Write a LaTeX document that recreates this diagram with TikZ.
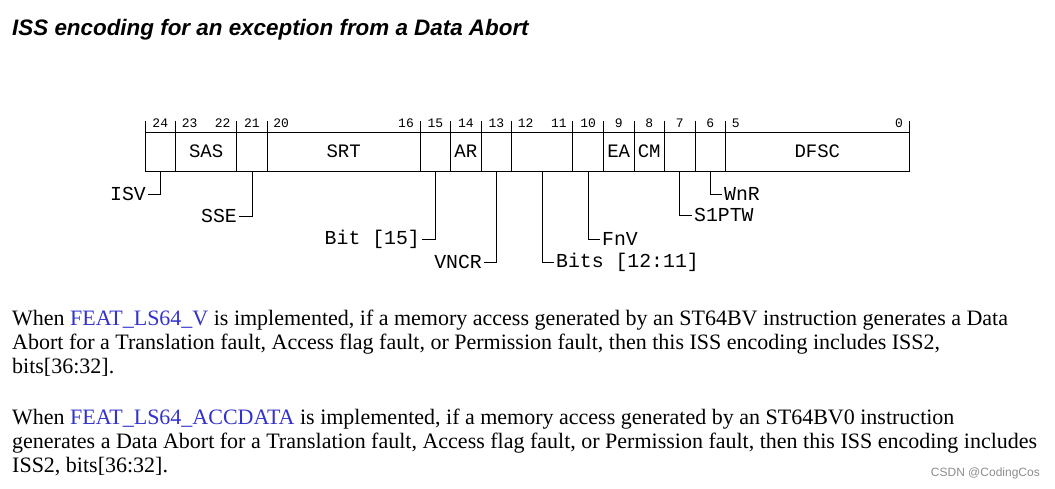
\documentclass[tikz,border=0pt]{standalone}
\usepackage{fontspec}
\setmainfont{Liberation Serif}
\newfontfamily\monof{Liberation Mono}
\newfontfamily\sansf{Liberation Sans}
\definecolor{linkc}{RGB}{51,51,204}
\begin{document}
\begin{tikzpicture}[x=1pt,y=-1pt,
  field/.style={draw,line width=0.9pt,minimum height=39pt,inner sep=0pt,font=\monof\fontsize{19}{19}\selectfont},
  bitn/.style={font=\monof\fontsize{13}{13}\selectfont,inner sep=0pt,anchor=base},
  lab/.style={font=\monof\fontsize{19.8}{19.8}\selectfont,inner sep=2pt},
  conn/.style={line width=0.9pt},
  para/.style={font=\fontsize{22}{24}\selectfont,anchor=base west,inner sep=0pt}]
\useasboundingbox (0,0) rectangle (1055,489);
\node[font=\sansf\bfseries\itshape\fontsize{22.4}{22.4}\selectfont,anchor=base west,inner sep=0pt] (title) at (12,36) {ISS encoding for an exception from a Data Abort};
\def\u{30.56}
\foreach \n/\h/\l/\t in {f24/24/24/{},sas/23/22/SAS,f21/21/21/{},srt/20/16/SRT,f15/15/15/{},ar/14/14/AR,f13/13/13/{},f1211/12/11/{},f10/10/10/{},ea/9/9/EA,cm/8/8/CM,f7/7/7/{},f6/6/6/{},dfsc/5/0/DFSC}{
  \pgfmathsetmacro\xl{909-(\h+1)*\u}
  \pgfmathsetmacro\xr{909-\l*\u}
  \pgfmathsetmacro\w{\xr-\xl}
  \node[field,minimum width=\w pt] (\n) at ({(\xl+\xr)/2},151.5) {\t};
  \draw[line width=0.8pt] (\xl,121) -- (\xl,132);
  \ifnum\h=\l
    \node[bitn] at ({(\xl+\xr)/2},128) {\h};
  \else
    \node[bitn,anchor=base west] at ({\xl+6},128) {\h};
    \node[bitn,anchor=base east] at ({\xr-6},128) {\l};
  \fi
}
\draw[line width=0.8pt] (909,121) -- (909,132);
\node[lab,anchor=east] (isv) at (148,194) {ISV};
\node[lab,anchor=east] (sse) at (239,216) {SSE};
\node[lab,anchor=east] (b15) at (422,239) {Bit [15]};
\node[lab,anchor=east] (vncr) at (484,262) {VNCR};
\node[lab,anchor=west] (b1211) at (554,262) {Bits [12:11]};
\node[lab,anchor=west] (fnv) at (600,239) {FnV};
\node[lab,anchor=west] (s1ptw) at (692,215) {S1PTW};
\node[lab,anchor=west] (wnr) at (722,194) {WnR};
\draw[conn] (f24.south) |- (isv.east);
\draw[conn] (f21.south) |- (sse.east);
\draw[conn] (f15.south) |- (b15.east);
\draw[conn] (f13.south) |- (vncr.east);
\draw[conn] (f1211.south) |- (b1211.west);
\draw[conn] (f10.south) |- (fnv.west);
\draw[conn] (f7.south) |- (s1ptw.west);
\draw[conn] (f6.south) |- (wnr.west);
\node[para] (p1) at (12,325) {When \textcolor{linkc}{FEAT\_LS64\_V} is implemented, if a memory access generated by an ST64BV instruction generates a Data};
\node[para] (p2) at (12,349) {Abort for a Translation fault, Access flag fault, or Permission fault, then this ISS encoding includes ISS2,};
\node[para] (p3) at (12,373) {bits[36:32].};
\node[para] (p4) at (12,424) {When \textcolor{linkc}{FEAT\_LS64\_ACCDATA} is implemented, if a memory access generated by an ST64BV0 instruction};
\node[para] (p5) at (12,448) {generates a Data Abort for a Translation fault, Access flag fault, or Permission fault, then this ISS encoding includes};
\node[para] (p6) at (12,472) {ISS2, bits[36:32].};
\node[font=\sansf\fontsize{12}{12}\selectfont,text=black!45,anchor=base east,inner sep=0pt] (wm) at (1040,476) {CSDN @CodingCos};
\end{tikzpicture}
\end{document}
